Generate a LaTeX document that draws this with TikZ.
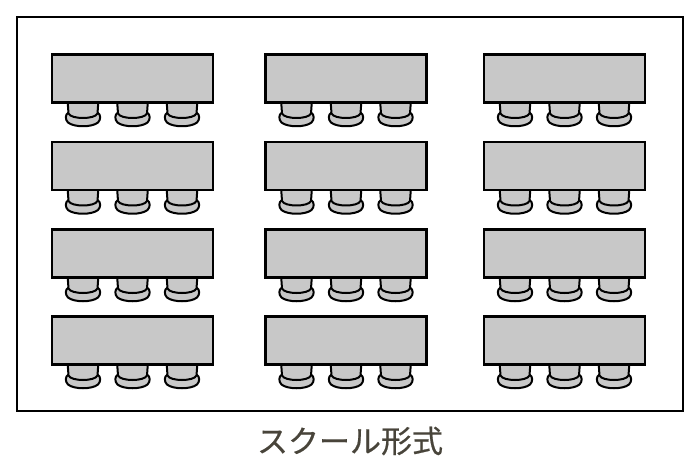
\documentclass[tikz,border=0pt]{standalone}
\usepackage{fontspec}
\newfontfamily\jpfont[FakeBold=0.6]{Noto Sans CJK JP}
\usetikzlibrary{backgrounds}
\definecolor{deskgray}{HTML}{C8C8C8}
\definecolor{captiontext}{HTML}{48443A}
\tikzset{
	room/.style={draw,rectangle,line width=2.4pt,minimum width=666pt,minimum height=394pt,outer sep=0pt},
	desk/.style={draw,rectangle,fill=deskgray,line width=2.4pt,minimum width=161pt,minimum height=48pt,outer sep=0pt},
	chairpart/.style={draw,fill=deskgray,line width=2pt,line join=round},
	caption/.style={font=\jpfont\fontsize{31}{31}\selectfont,text=captiontext}
}
\begin{document}
\begin{tikzpicture}[x=1pt,y=-1pt]
	\useasboundingbox (0,0) rectangle (700,470);
	\node[room] (room) at (350,214) {};
	\foreach \c/\x in {1/132.5,2/346,3/564.5}
		\foreach \r/\y in {1/78.5,2/166,3/253.5,4/340.5}
			\node[desk] (desk-\r-\c) at (\x,\y) {};
	% chairs sit behind the desks
	\begin{scope}[on background layer]
		\foreach \r in {1,...,4}
			\foreach \c in {1,2,3}
				\foreach \o in {-49.5,0,49.5} {
					\begin{scope}[shift={(desk-\r-\c.south)},xshift=\o]
						\draw[chairpart] (-14.5,10) .. controls (-18,12) and (-18,17) .. (-15,20) .. controls (-9,25) and (9,25) .. (15,20) .. controls (18,17) and (18,12) .. (14.5,10) -- cycle;
						\draw[chairpart] (-15.5,-3) -- (-14.5,11) .. controls (-12,17) and (12,17) .. (14.5,11) -- (15.5,-3);
					\end{scope}
				}
	\end{scope}
	\node[caption] (label) at (350,441) {スクール形式};
\end{tikzpicture}
\end{document}
